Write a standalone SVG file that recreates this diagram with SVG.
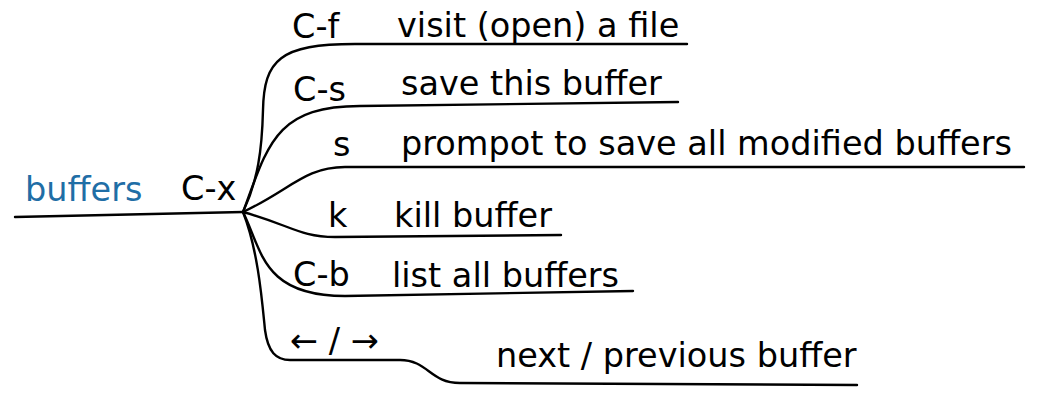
<svg xmlns="http://www.w3.org/2000/svg" width="1039" height="400" viewBox="0 0 1039 400">
<style>
text{font-family:"DejaVu Sans","Liberation Sans",sans-serif;font-size:33.5px;fill:#000}
.root{fill:#1f6ea6}
.c{fill:none;stroke:#000;stroke-width:2.4;stroke-linecap:round;stroke-linejoin:round}
</style>
<rect width="1039" height="400" fill="#fff"/>
<g id="connectors">
<path class="c" d="M15,217 L243,212"/>
<path class="c" d="M243,212 C258,180 262,150 263,110 C264,60 280,44 355,44 L687,44"/>
<path class="c" d="M243,212 C268,145 275,106 360,106 L678,102"/>
<path class="c" d="M243,212 C290,190 305,167 345,167 L1024,167"/>
<path class="c" d="M243,212 C290,225 300,237 335,237 L561,235"/>
<path class="c" d="M243,212 C262,250 262,296 345,296 L633,291"/>
<path class="c" d="M243,212 C258,250 262,300 265,330 C268,352 276,360 290,360 L400,360 C428,360 430,383 460,383 L857,385"/>
</g>
<g id="node-buffers"><text class="root" x="25" y="201">buffers</text></g>
<g id="node-cx"><text x="181" y="200">C-x</text></g>
<g id="node-cf"><text x="292" y="38">C-f</text><text x="397" y="37">visit (open) a file</text></g>
<g id="node-cs"><text x="293" y="101">C-s</text><text x="401" y="95">save this buffer</text></g>
<g id="node-s"><text x="333" y="156">s</text><text x="401" y="155">prompot to save all modified buffers</text></g>
<g id="node-k"><text x="328" y="227">k</text><text x="394" y="227">kill buffer</text></g>
<g id="node-cb"><text x="293" y="286">C-b</text><text x="392" y="287">list all buffers</text></g>
<g id="node-arrows"><text x="290" y="352">← / →</text><text x="496" y="367">next / previous buffer</text></g>
</svg>
